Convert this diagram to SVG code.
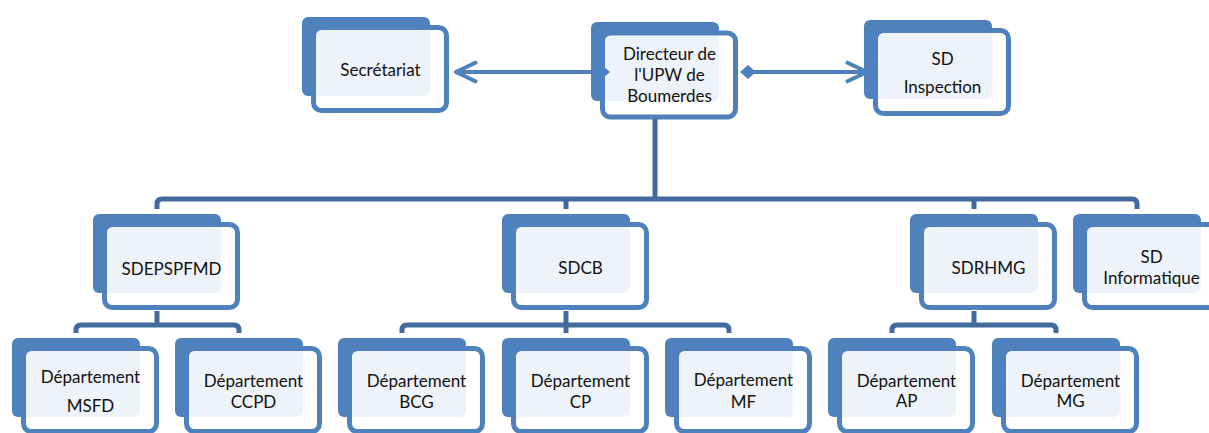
<svg xmlns="http://www.w3.org/2000/svg" width="1209" height="433" viewBox="0 0 1209 433">
<defs>
<style>
.back{fill:#4F81BD}
.front{fill:#fff;fill-opacity:.9;stroke:#4F81BD;stroke-width:5}
.t{font-family:Lato,"Liberation Sans",sans-serif;font-size:17px;fill:#111;text-anchor:middle}
.tree{fill:none;stroke:#416A9E;stroke-width:5;stroke-linejoin:round}
.arrow{fill:none;stroke:#4F81BD;stroke-width:4}
</style>
<marker id="open" markerUnits="userSpaceOnUse" viewBox="-24 -12 26 24" markerWidth="26" markerHeight="24" refX="0" refY="0" orient="auto">
<path d="M-21 -10 L0 0 L-21 10" fill="none" stroke="#4F81BD" stroke-width="4"/>
</marker>
<marker id="diamond" markerUnits="userSpaceOnUse" viewBox="-9 -9 18 18" markerWidth="18" markerHeight="18" refX="0" refY="0" orient="auto">
<path d="M-8 0 L0 -7 L8 0 L0 7 Z" fill="#4F81BD"/>
</marker>
</defs>
<rect width="1209" height="433" fill="#fff"/>

<g id="n-secretariat" transform="translate(302,17)">
<rect class="back" width="128" height="79" rx="6"/>
<rect class="front" x="11.5" y="10.5" width="133" height="83" rx="8"/>
<text class="t" x="78.5" y="59">Secrétariat</text>
</g>
<g id="n-directeur" transform="translate(591,22)">
<rect class="back" width="128" height="79" rx="6"/>
<rect class="front" x="11.5" y="11" width="133" height="84" rx="8"/>
<text class="t" x="78.5" y="38">Directeur de</text>
<text class="t" x="78.5" y="59">l'UPW de</text>
<text class="t" x="78.5" y="79.5">Boumerdes</text>
</g>
<g id="n-inspection" transform="translate(864,20)">
<rect class="back" width="128" height="79" rx="6"/>
<rect class="front" x="11.5" y="10.5" width="133" height="83" rx="8"/>
<text class="t" x="78.5" y="45">SD</text>
<text class="t" x="78.5" y="73">Inspection</text>
</g>
<g id="n-sdepspfmd" transform="translate(93,214)">
<rect class="back" width="128" height="79" rx="6"/>
<rect class="front" x="11.5" y="10.5" width="133" height="83" rx="8"/>
<text class="t" x="78.5" y="61">SDEPSPFMD</text>
</g>
<g id="n-sdcb" transform="translate(502,214)">
<rect class="back" width="128" height="79" rx="6"/>
<rect class="front" x="11.5" y="10.5" width="133" height="83" rx="8"/>
<text class="t" x="78.5" y="60">SDCB</text>
</g>
<g id="n-sdrhmg" transform="translate(910,214)">
<rect class="back" width="128" height="79" rx="6"/>
<rect class="front" x="11.5" y="10.5" width="133" height="83" rx="8"/>
<text class="t" x="78.5" y="60">SDRHMG</text>
</g>
<g id="n-informatique" transform="translate(1073,214)">
<rect class="back" width="128" height="79" rx="6"/>
<rect class="front" x="11.5" y="10.5" width="133" height="83" rx="8"/>
<text class="t" x="78.5" y="49">SD</text>
<text class="t" x="78.5" y="70">Informatique</text>
</g>
<g id="n-msfd" transform="translate(12,338)">
<rect class="back" width="128" height="79" rx="6"/>
<rect class="front" x="11.5" y="10.5" width="133" height="83" rx="8"/>
<text class="t" x="78.5" y="45">Département</text>
<text class="t" x="78.5" y="73.5">MSFD</text>
</g>
<g id="n-ccpd" transform="translate(175,338)">
<rect class="back" width="128" height="79" rx="6"/>
<rect class="front" x="11.5" y="10.5" width="133" height="83" rx="8"/>
<text class="t" x="78.5" y="49">Département</text>
<text class="t" x="78.5" y="70">CCPD</text>
</g>
<g id="n-bcg" transform="translate(338,338)">
<rect class="back" width="128" height="79" rx="6"/>
<rect class="front" x="11.5" y="10.5" width="133" height="83" rx="8"/>
<text class="t" x="78.5" y="49">Département</text>
<text class="t" x="78.5" y="70">BCG</text>
</g>
<g id="n-cp" transform="translate(502,338)">
<rect class="back" width="128" height="79" rx="6"/>
<rect class="front" x="11.5" y="10.5" width="133" height="83" rx="8"/>
<text class="t" x="78.5" y="49">Département</text>
<text class="t" x="78.5" y="70">CP</text>
</g>
<g id="n-mf" transform="translate(665,338)">
<rect class="back" width="128" height="79" rx="6"/>
<rect class="front" x="11.5" y="10.5" width="133" height="83" rx="8"/>
<text class="t" x="78.5" y="48">Département</text>
<text class="t" x="78.5" y="70">MF</text>
</g>
<g id="n-ap" transform="translate(828,338)">
<rect class="back" width="128" height="79" rx="6"/>
<rect class="front" x="11.5" y="10.5" width="133" height="83" rx="8"/>
<text class="t" x="78.5" y="49">Département</text>
<text class="t" x="78.5" y="69">AP</text>
</g>
<g id="n-mg" transform="translate(992,338)">
<rect class="back" width="128" height="79" rx="6"/>
<rect class="front" x="11.5" y="10.5" width="133" height="83" rx="8"/>
<text class="t" x="78.5" y="49">Département</text>
<text class="t" x="78.5" y="69">MG</text>
</g>

<g id="connectors">
<path class="arrow" d="M602 72 H456" marker-start="url(#diamond)" marker-end="url(#open)"/>
<path class="arrow" d="M748 72 H867" marker-start="url(#diamond)" marker-end="url(#open)"/>
<path class="tree" d="M655 119 V199"/>
<path class="tree" d="M157 209 V204 Q157 199 162 199 H1132 Q1137 199 1137 204 V209"/>
<path class="tree" d="M566 199 V209"/>
<path class="tree" d="M974 199 V209"/>
<path class="tree" d="M157 311 V325"/>
<path class="tree" d="M76 333 V330 Q76 325 81 325 H234 Q239 325 239 330 V333"/>
<path class="tree" d="M566 311 V333"/>
<path class="tree" d="M402 333 V330 Q402 325 407 325 H724 Q729 325 729 330 V333"/>
<path class="tree" d="M974 311 V325"/>
<path class="tree" d="M892 333 V330 Q892 325 897 325 H1051 Q1056 325 1056 330 V333"/>
</g>
</svg>
